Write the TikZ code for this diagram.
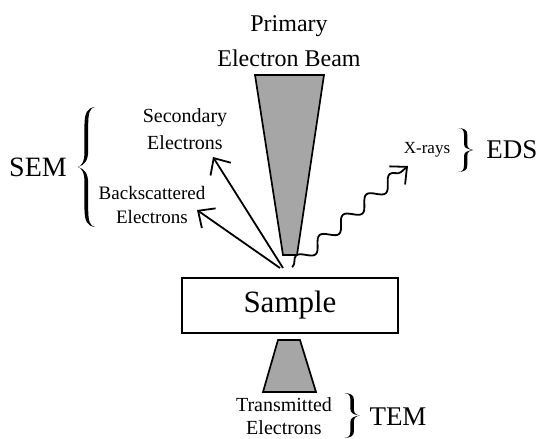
\documentclass[tikz,border=0pt]{standalone}
\usepackage{fontspec}
\setmainfont{Liberation Serif}
\usetikzlibrary{arrows.meta,decorations.pathmorphing}
\tikzset{
  txt/.style={inner sep=0pt, anchor=center},
  beamshape/.style={draw=black, fill=black!35, line width=1.7pt, line join=miter},
  ray/.style={line width=1.8pt, -{Straight Barb[length=13pt,width=24pt,line width=1.8pt]}},
  wave/.style={line width=1.8pt, decorate, decoration={snake, segment length=31pt, amplitude=6pt, pre length=1pt, post length=6pt}, -{Straight Barb[length=13pt,width=24pt,line width=1.8pt]}},
  lbrace/.pic={
    \fill (1,-1) .. controls (0.55,-0.985) and (0.38,-0.9) .. (0.38,-0.7)
      -- (0.38,-0.25) .. controls (0.38,-0.08) and (0.2,-0.02) .. (0,0)
      .. controls (0.38,-0.035) and (0.6,-0.1) .. (0.6,-0.28)
      -- (0.6,-0.7) .. controls (0.6,-0.92) and (0.72,-0.985) .. cycle;
    \fill (1,1) .. controls (0.55,0.985) and (0.38,0.9) .. (0.38,0.7)
      -- (0.38,0.25) .. controls (0.38,0.08) and (0.2,0.02) .. (0,0)
      .. controls (0.38,0.035) and (0.6,0.1) .. (0.6,0.28)
      -- (0.6,0.7) .. controls (0.6,0.92) and (0.72,0.985) .. cycle;
  }
}
\begin{document}
\begin{tikzpicture}[x=1pt,y=-1pt]
\useasboundingbox (0,0) rectangle (539,439);
% primary beam label
\node[txt, font=\fontsize{24}{28}\selectfont] (primary) at (289,26) {Primary};
\node[txt, font=\fontsize{24}{28}\selectfont] (ebeam) at (289,58) {Electron Beam};
% primary beam
\coordinate (b1) at (255,75);
\coordinate (b2) at (324,75);
\coordinate (b3) at (297,255);
\coordinate (b4) at (283,255);
\draw[beamshape] (b1) -- (b2) -- (b3) -- (b4) -- cycle;
% sample
\node[draw, line width=1.7pt, minimum width=216pt, minimum height=55pt, inner sep=0pt,
      font=\fontsize{31}{36}\selectfont] (sample) at (290,305.5) {Sample};
% transmitted beam
\coordinate (t1) at (278,340);
\coordinate (t2) at (300,340);
\coordinate (t3) at (316,392);
\coordinate (t4) at (263,392);
\draw[beamshape] (t1) -- (t2) -- (t3) -- (t4) -- cycle;
\node[txt, font=\fontsize{20}{24}\selectfont] (trans) at (284,405) {Transmitted};
\node[txt, font=\fontsize{20}{24}\selectfont] (trans2) at (284,428) {Electrons};
\pic[xscale=-16, yscale=22.5] at (360,415.5) {lbrace};
\node[txt, font=\fontsize{27}{32}\selectfont] (tem) at (398,417) {TEM};
% SEM
\node[txt, font=\fontsize{28}{32}\selectfont] (sem) at (38,167) {SEM};
\pic[xscale=17, yscale=60] at (78,167) {lbrace};
\node[txt, font=\fontsize{20}{24}\selectfont] (sec1) at (185,118) {Secondary};
\node[txt, font=\fontsize{20}{24}\selectfont] (sec2) at (185,143) {Electrons};
\node[txt, font=\fontsize{19}{23}\selectfont] (bs1) at (152,193) {Backscattered};
\node[txt, font=\fontsize{19}{23}\selectfont] (bs2) at (152,217) {Electrons};
% EDS
\node[txt, font=\fontsize{17}{20}\selectfont] (xr) at (427,150) {X-rays};
\pic[xscale=-15, yscale=22] at (473,150) {lbrace};
\node[txt, font=\fontsize{27}{32}\selectfont] (eds) at (512,150) {EDS};
% emanations
\coordinate (o1) at (283,268);
\coordinate (o2) at (280,268);
\coordinate (o3) at (292,267);
\coordinate (secTip) at (213,157);
\coordinate (bsTip) at (197,210);
\coordinate (xrTip) at (408,166);
\draw[ray] (o1) -- (secTip);
\draw[ray] (o2) -- (bsTip);
\draw[wave] (o3) -- (xrTip);
\end{tikzpicture}
\end{document}
